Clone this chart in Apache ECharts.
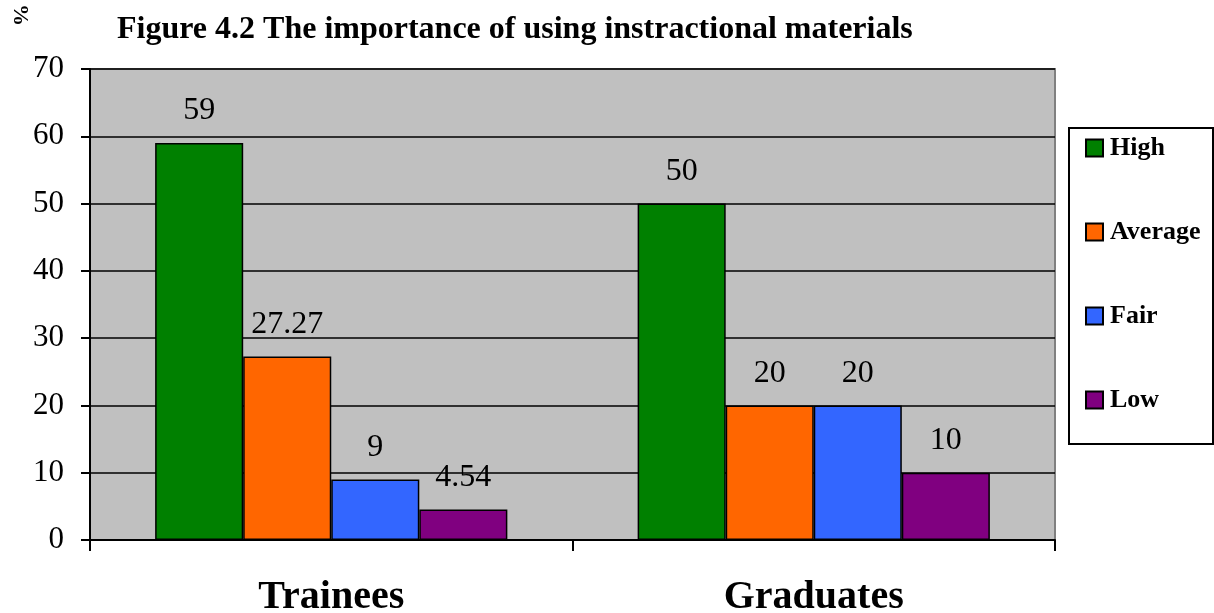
<!DOCTYPE html>
<html>
<head>
<meta charset="utf-8">
<script src="https://cdn.jsdelivr.net/npm/echarts@6/dist/echarts.min.js"></script>
<style>
  html, body { margin: 0; padding: 0; background: #ffffff; }
  #chart { width: 1214px; height: 613px; }
</style>
</head>
<body>
<div id="chart"></div>
<script>
// Response groups and ratings (percent)
const categories = ['Trainees', 'Graduates'];
const seriesNames = ['High', 'Average', 'Fair', 'Low'];
const highValues = [59, 50];
const averageValues = [27.27, 20];
const fairValues = [9, 20];
const lowValues = [4.54, 10];
const yTicks = [0, 10, 20, 30, 40, 50, 60, 70];

const colors = ['#008000', '#FF6600', '#3366FF', '#800080'];
const serif = '"Liberation Serif", "Times New Roman", serif';

const valueSets = [highValues, averageValues, fairValues, lowValues];

const chart = echarts.init(document.getElementById('chart'), null, { renderer: 'canvas' });

const series = seriesNames.map((name, i) => ({
  name: name,
  type: 'bar',
  data: valueSets[i],
  barGap: '0%',
  barCategoryGap: '27%',
  itemStyle: { color: colors[i], borderColor: '#000000', borderWidth: 1.5 },
  label: {
    show: true,
    position: 'top',
    distance: 16,
    color: '#000000',
    fontFamily: serif,
    fontSize: 32
  },
  emphasis: { disabled: true },
  animation: false
}));

chart.setOption({
  animation: false,
  textStyle: { fontFamily: serif },
  title: {
    text: 'Figure 4.2 The importance of using instractional materials',
    left: 117,
    top: 14,
    padding: 0,
    textStyle: { fontFamily: serif, fontSize: 32, fontWeight: 'bold', color: '#000000' }
  },
  grid: {
    left: 90,
    right: 159,
    top: 69,
    bottom: 73,
    outerBoundsMode: 'none',
    containLabel: false,
    show: true,
    backgroundColor: '#C0C0C0',
    borderColor: '#808080',
    borderWidth: 2
  },
  legend: {
    orient: 'vertical',
    left: 1085,
    top: 135,
    padding: 0,
    itemWidth: 17,
    itemHeight: 17,
    itemGap: 58,
    icon: 'rect',
    data: seriesNames,
    itemStyle: { borderColor: '#000000', borderWidth: 2 },
    textStyle: { fontFamily: serif, fontSize: 26, fontWeight: 'bold', color: '#000000', lineHeight: 26, padding: [0, 0, 0, 2] }
  },
  xAxis: {
    type: 'category',
    data: categories,
    axisLine: { lineStyle: { color: '#000000', width: 2 } },
    axisTick: { show: true, length: 11, lineStyle: { color: '#000000', width: 2 } },
    axisLabel: { margin: 38, fontFamily: serif, fontSize: 40, fontWeight: 'bold', color: '#000000' },
    splitLine: { show: false }
  },
  yAxis: {
    type: 'value',
    min: yTicks[0],
    max: yTicks[yTicks.length - 1],
    interval: 10,
    axisLine: { show: true, lineStyle: { color: '#000000', width: 2 } },
    axisTick: { show: true, length: 9, lineStyle: { color: '#000000', width: 2 } },
    axisLabel: { margin: 26, fontFamily: serif, fontSize: 31, color: '#000000' },
    splitLine: { show: true, lineStyle: { color: '#000000', width: 1.5 } }
  },
  graphic: [
    {
      type: 'rect',
      left: 1068,
      top: 127,
      z: -1,
      shape: { width: 144, height: 316 },
      style: { fill: '#ffffff', stroke: '#000000', lineWidth: 2 }
    },
    {
      type: 'text',
      x: 20,
      y: 15,
      rotation: -Math.PI / 2,
      style: {
        text: '%',
        font: 'bold 22px ' + serif,
        fill: '#000000',
        textAlign: 'center',
        textVerticalAlign: 'middle'
      }
    }
  ],
  series: series
});
</script>
</body>
</html>
